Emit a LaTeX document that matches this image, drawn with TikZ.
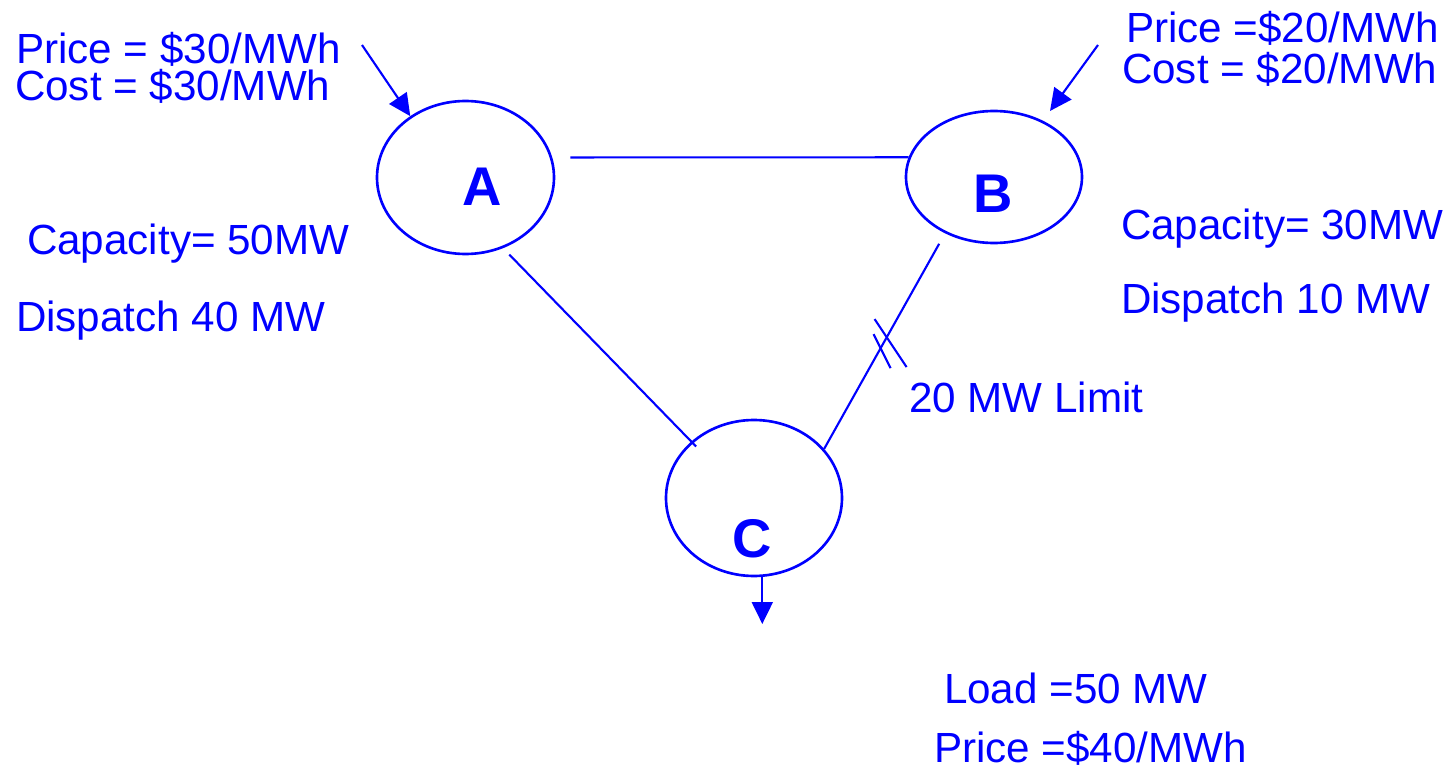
\documentclass[tikz,border=0pt]{standalone}
\usepackage{fontspec}
\setmainfont{Liberation Sans}
\usetikzlibrary{shapes.geometric,arrows.meta,calc}

\begin{document}
\begin{tikzpicture}[draw=blue,line width=0.6pt]
	\fontsize{12}{14}\selectfont
	\def \toprow{7.04}
	\def \secrow{6.66}
	\def \caprow{5.12}
	\def \disprow{4.36}

	\tikzstyle{bus-node}=[ellipse,draw=blue,line width=0.75pt,inner sep=0pt]
	\tikzstyle{bus-label}=[text=blue,inner sep=0pt,font=\fontsize{15.5}{18}\selectfont\bfseries]
	\tikzstyle{annot}=[text=blue,inner sep=0pt,anchor=base west]
	\tikzstyle{flow}=[-{Triangle[length=2.2mm,width=2.1mm]},draw=blue]

	\useasboundingbox (0,0) rectangle (14.48,7.67);

	% buses
	\node[bus-node,minimum width=1.77cm,minimum height=1.53cm]	(A)	at (4.655,5.895)	{};
	\node[bus-node,minimum width=1.76cm,minimum height=1.32cm]	(B)	at (9.94,5.90)		{};
	\node[bus-node,minimum width=1.76cm,minimum height=1.56cm]	(C)	at (7.54,2.69)		{};

	\node[bus-label]	(Alab)	at (4.82,5.805)		{A};
	\node[bus-label]	(Blab)	at (9.93,5.735)		{B};
	\node[bus-label]	(Clab)	at (7.525,2.285)	{C};

	% bus A
	\node[annot]	(priceA)	at (0.15,\toprow)	{Price = \$30/MWh};
	\node[annot]	(costA)		at (0.14,\secrow)	{Cost = \$30/MWh};
	\node[annot]	(capA)		at (0.26,\caprow)	{Capacity= 50MW};
	\node[annot]	(dispA)		at (0.15,\disprow)	{Dispatch 40 MW};

	% bus B
	\node[annot]	(priceB)	at (11.25,7.24)		{Price =\$20/MWh};
	\node[annot]	(costB)		at (11.21,6.84)		{Cost = \$20/MWh};
	\node[annot]	(capB)		at (11.20,5.27)		{Capacity= 30MW};
	\node[annot]	(dispB)		at (11.20,4.54)		{Dispatch 10 MW};

	% bus C
	\node[annot]	(limit)		at (9.08,3.55)		{20 MW Limit};
	\node[annot]	(load)		at (9.43,0.64)		{Load =50 MW};
	\node[annot]	(priceC)	at (9.33,0.05)		{Price =\$40/MWh};

	\coordinate (inA)	at (3.62,7.22);
	\coordinate (inB)	at (10.98,7.22);
	\coordinate (out)	at (7.62,1.43);

	% lines
	\draw[shorten <=0.18cm]	(A.13) -- (B.167);
	\draw[shorten <=0.09cm,shorten >=-0.07cm]	(A.-62) -- (C.138);
	\draw[shorten <=0.12cm]	(B.-131) -- coordinate[pos=0.5] (cut) (C.35);

	\draw ($(cut)+(-0.10,0.22)$) -- ($(cut)+(0.22,-0.26)$);
	\draw ($(cut)+(-0.11,0.07)$) -- ($(cut)+(0.06,-0.27)$);

	% injections
	\draw[flow]	(inA) -- (A.132);
	\draw[flow,shorten >=0.12cm]	(inB) -- (B.49);
	\draw[flow]	(C.-84) -- (C.-84 |- out);
\end{tikzpicture}
\end{document}
